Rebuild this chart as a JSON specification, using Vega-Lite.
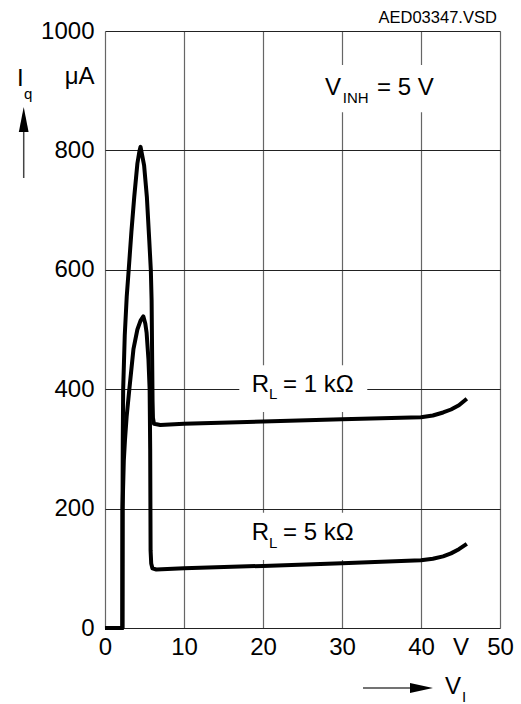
{
  "$schema": "https://vega.github.io/schema/vega-lite/v6.json",
  "width": 395,
  "height": 597,
  "autosize": {"type": "none"},
  "padding": {"left": 105, "top": 31, "right": 21, "bottom": 76},
  "background": "white",
  "config": {
    "view": {"stroke": null},
    "font": "Liberation Sans",
    "text": {"font": "Liberation Sans", "color": "black"}
  },
  "datasets": {
    "curves": [
      {"s": "1k", "i": 0, "v": 0, "iq": 0},
      {"s": "1k", "i": 1, "v": 2.2, "iq": 0},
      {"s": "1k", "i": 2, "v": 2.22, "iq": 200},
      {"s": "1k", "i": 3, "v": 2.25, "iq": 315},
      {"s": "1k", "i": 4, "v": 2.3, "iq": 400},
      {"s": "1k", "i": 5, "v": 2.5, "iq": 490},
      {"s": "1k", "i": 6, "v": 2.75, "iq": 555},
      {"s": "1k", "i": 7, "v": 3.0, "iq": 600},
      {"s": "1k", "i": 8, "v": 3.35, "iq": 665},
      {"s": "1k", "i": 9, "v": 3.7, "iq": 722},
      {"s": "1k", "i": 10, "v": 4.1, "iq": 778},
      {"s": "1k", "i": 11, "v": 4.35, "iq": 798},
      {"s": "1k", "i": 12, "v": 4.5, "iq": 806},
      {"s": "1k", "i": 13, "v": 4.7, "iq": 792},
      {"s": "1k", "i": 14, "v": 4.95, "iq": 775},
      {"s": "1k", "i": 15, "v": 5.3, "iq": 722},
      {"s": "1k", "i": 16, "v": 5.6, "iq": 650},
      {"s": "1k", "i": 17, "v": 5.8, "iq": 600},
      {"s": "1k", "i": 18, "v": 5.9, "iq": 549},
      {"s": "1k", "i": 19, "v": 5.97, "iq": 450},
      {"s": "1k", "i": 20, "v": 6.02, "iq": 380},
      {"s": "1k", "i": 21, "v": 6.07, "iq": 352},
      {"s": "1k", "i": 22, "v": 6.2, "iq": 342},
      {"s": "1k", "i": 23, "v": 7, "iq": 340},
      {"s": "1k", "i": 24, "v": 10, "iq": 342},
      {"s": "1k", "i": 25, "v": 20, "iq": 346},
      {"s": "1k", "i": 26, "v": 30, "iq": 349.5},
      {"s": "1k", "i": 27, "v": 40, "iq": 353},
      {"s": "1k", "i": 28, "v": 41.5, "iq": 356},
      {"s": "1k", "i": 29, "v": 42.8, "iq": 361},
      {"s": "1k", "i": 30, "v": 43.8, "iq": 366},
      {"s": "1k", "i": 31, "v": 44.8, "iq": 373},
      {"s": "1k", "i": 32, "v": 45.8, "iq": 384},
      {"s": "5k", "i": 0, "v": 0, "iq": 0},
      {"s": "5k", "i": 1, "v": 2.2, "iq": 0},
      {"s": "5k", "i": 2, "v": 2.22, "iq": 200},
      {"s": "5k", "i": 3, "v": 2.38, "iq": 280},
      {"s": "5k", "i": 4, "v": 2.53, "iq": 315},
      {"s": "5k", "i": 5, "v": 2.74, "iq": 354},
      {"s": "5k", "i": 6, "v": 3.08, "iq": 400},
      {"s": "5k", "i": 7, "v": 3.6, "iq": 467},
      {"s": "5k", "i": 8, "v": 4.1, "iq": 500},
      {"s": "5k", "i": 9, "v": 4.5, "iq": 515},
      {"s": "5k", "i": 10, "v": 4.85, "iq": 522},
      {"s": "5k", "i": 11, "v": 5.1, "iq": 510},
      {"s": "5k", "i": 12, "v": 5.27, "iq": 494},
      {"s": "5k", "i": 13, "v": 5.5, "iq": 450},
      {"s": "5k", "i": 14, "v": 5.65, "iq": 400},
      {"s": "5k", "i": 15, "v": 5.72, "iq": 300},
      {"s": "5k", "i": 16, "v": 5.75, "iq": 200},
      {"s": "5k", "i": 17, "v": 5.77, "iq": 130},
      {"s": "5k", "i": 18, "v": 5.85, "iq": 108},
      {"s": "5k", "i": 19, "v": 6.0, "iq": 100},
      {"s": "5k", "i": 20, "v": 6.5, "iq": 98},
      {"s": "5k", "i": 21, "v": 10, "iq": 100},
      {"s": "5k", "i": 22, "v": 20, "iq": 104},
      {"s": "5k", "i": 23, "v": 30, "iq": 108.5},
      {"s": "5k", "i": 24, "v": 40, "iq": 113.5},
      {"s": "5k", "i": 25, "v": 41.5, "iq": 116},
      {"s": "5k", "i": 26, "v": 42.8, "iq": 120},
      {"s": "5k", "i": 27, "v": 43.8, "iq": 125},
      {"s": "5k", "i": 28, "v": 44.8, "iq": 132},
      {"s": "5k", "i": 29, "v": 45.8, "iq": 141}
    ],
    "boxes": [
      {"x1": 26.6, "x2": 43, "y1": 864, "y2": 943},
      {"x1": 17, "x2": 33.2, "y1": 362, "y2": 440},
      {"x1": 17, "x2": 33.2, "y1": 114, "y2": 193}
    ],
    "mainText": [
      {"t": "V", "x": 27.85, "y": 905},
      {"t": "= 5 V", "x": 34.43, "y": 905},
      {"t": "R", "x": 18.57, "y": 407},
      {"t": "= 1 kΩ", "x": 22.53, "y": 407},
      {"t": "R", "x": 18.57, "y": 158.6},
      {"t": "= 5 kΩ", "x": 22.53, "y": 158.6},
      {"t": "I", "x": -11.14, "y": 919.6},
      {"t": "V", "x": 43.04, "y": -98}
    ],
    "subText": [
      {"t": "INH", "x": 30.1, "y": 887},
      {"t": "L", "x": 20.76, "y": 392},
      {"t": "L", "x": 20.76, "y": 143},
      {"t": "q", "x": -10.25, "y": 894.5},
      {"t": "I", "x": 45.19, "y": -116}
    ],
    "fileText": [
      {"t": "AED03347.VSD", "x": 49.6, "y": 1022.6}
    ],
    "arrowLines": [
      {"x": -10.29, "y": 753.8, "x2": -10.29, "y2": 851},
      {"x": 32.66, "y": -100.5, "x2": 39.5, "y2": -100.5}
    ],
    "upHead": [{"x": -10.29, "y": 851.8}],
    "rightHead": [{"x": 40.06, "y": -100.5}]
  },
  "layer": [
    {
      "data": {"name": "boxes"},
      "mark": {"type": "rect", "fill": "white"},
      "encoding": {
        "x": {"field": "x1", "type": "quantitative", "title": null, "scale": {"domain": [0, 50], "nice": false, "zero": false}},
        "x2": {"field": "x2"},
        "y": {"field": "y1", "type": "quantitative", "title": null, "scale": {"domain": [0, 1000], "nice": false, "zero": false}},
        "y2": {"field": "y2"}
      }
    },
    {
      "data": {"name": "curves"},
      "mark": {"type": "line", "color": "black", "strokeWidth": 4, "strokeJoin": "round"},
      "encoding": {
        "x": {
          "field": "v", "type": "quantitative", "title": null,
          "scale": {"domain": [0, 50], "nice": false, "zero": false},
          "axis": {
            "values": [0, 10, 20, 30, 40, 45, 50],
            "labelExpr": "datum.value == 45 ? 'V' : format(datum.value, 'd')",
            "title": null,
            "grid": true,
            "gridColor": "#666",
            "gridWidth": 1.2,
            "gridOpacity": {"condition": {"test": "datum.value == 45", "value": 0}, "value": 1},
            "ticks": false,
            "tickSize": 0,
            "domain": false,
            "labelFont": "Liberation Sans",
            "labelFontSize": 24,
            "labelColor": "black",
            "labelPadding": 7,
            "labelFlush": false,
            "labelBound": false,
            "labelOverlap": false
          }
        },
        "y": {
          "field": "iq", "type": "quantitative", "title": null,
          "scale": {"domain": [0, 1000], "nice": false, "zero": false},
          "axis": {
            "values": [0, 200, 400, 600, 800, 923, 1000],
            "labelExpr": "datum.value == 923 ? 'μA' : format(datum.value, 'd')",
            "title": null,
            "grid": true,
            "gridColor": "#222",
            "gridWidth": 1.2,
            "gridOpacity": {"condition": {"test": "datum.value == 923", "value": 0}, "value": 1},
            "ticks": false,
            "tickSize": 0,
            "domain": false,
            "labelFont": "Liberation Sans",
            "labelFontSize": 24,
            "labelColor": "black",
            "labelPadding": 11,
            "labelFlush": false,
            "labelBound": false,
            "labelOverlap": false
          }
        },
        "detail": {"field": "s"},
        "order": {"field": "i", "type": "quantitative"}
      }
    },
    {
      "data": {"name": "mainText"},
      "mark": {"type": "text", "fontSize": 24, "align": "left", "baseline": "middle", "font": "Liberation Sans", "color": "black"},
      "encoding": {
        "x": {"field": "x", "type": "quantitative", "title": null, "scale": {"domain": [0, 50], "nice": false, "zero": false}},
        "y": {"field": "y", "type": "quantitative", "title": null, "scale": {"domain": [0, 1000], "nice": false, "zero": false}},
        "text": {"field": "t"}
      }
    },
    {
      "data": {"name": "subText"},
      "mark": {"type": "text", "fontSize": 15, "align": "left", "baseline": "middle", "font": "Liberation Sans", "color": "black"},
      "encoding": {
        "x": {"field": "x", "type": "quantitative", "title": null, "scale": {"domain": [0, 50], "nice": false, "zero": false}},
        "y": {"field": "y", "type": "quantitative", "title": null, "scale": {"domain": [0, 1000], "nice": false, "zero": false}},
        "text": {"field": "t"}
      }
    },
    {
      "data": {"name": "fileText"},
      "mark": {"type": "text", "fontSize": 16.5, "align": "right", "baseline": "middle", "font": "Liberation Sans", "color": "black"},
      "encoding": {
        "x": {"field": "x", "type": "quantitative", "title": null, "scale": {"domain": [0, 50], "nice": false, "zero": false}},
        "y": {"field": "y", "type": "quantitative", "title": null, "scale": {"domain": [0, 1000], "nice": false, "zero": false}},
        "text": {"field": "t"}
      }
    },
    {
      "data": {"name": "arrowLines"},
      "mark": {"type": "rule", "color": "#444", "strokeWidth": 1.5},
      "encoding": {
        "x": {"field": "x", "type": "quantitative", "title": null, "scale": {"domain": [0, 50], "nice": false, "zero": false}},
        "y": {"field": "y", "type": "quantitative", "title": null, "scale": {"domain": [0, 1000], "nice": false, "zero": false}},
        "x2": {"field": "x2"},
        "y2": {"field": "y2"}
      }
    },
    {
      "data": {"name": "upHead"},
      "mark": {"type": "point", "shape": "M0,-1L0.39,1L-0.39,1Z", "size": 625, "filled": true, "color": "black", "opacity": 1},
      "encoding": {
        "x": {"field": "x", "type": "quantitative", "title": null, "scale": {"domain": [0, 50], "nice": false, "zero": false}},
        "y": {"field": "y", "type": "quantitative", "title": null, "scale": {"domain": [0, 1000], "nice": false, "zero": false}}
      }
    },
    {
      "data": {"name": "rightHead"},
      "mark": {"type": "point", "shape": "M1,0L-1,-0.43L-1,0.43Z", "size": 529, "filled": true, "color": "black", "opacity": 1},
      "encoding": {
        "x": {"field": "x", "type": "quantitative", "title": null, "scale": {"domain": [0, 50], "nice": false, "zero": false}},
        "y": {"field": "y", "type": "quantitative", "title": null, "scale": {"domain": [0, 1000], "nice": false, "zero": false}}
      }
    }
  ]
}
